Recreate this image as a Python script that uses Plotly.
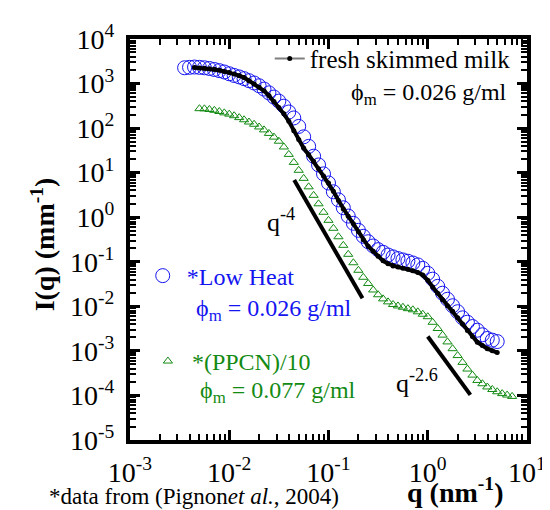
import plotly.graph_objects as go

# ---- data (q in nm^-1, I in mm^-1) ----
q_grid = [0.00355, 0.00398, 0.00447, 0.00501, 0.00562, 0.00631, 0.00708, 0.00794, 0.00891,
          0.0100, 0.0112, 0.0126, 0.0141, 0.0158, 0.0178, 0.0200, 0.0224, 0.0251, 0.0282,
          0.0316, 0.0355, 0.0398, 0.0447, 0.0501, 0.0562, 0.0631, 0.0708, 0.0794, 0.0891,
          0.100, 0.112, 0.126, 0.141, 0.158, 0.178, 0.200, 0.224, 0.251, 0.282,
          0.316, 0.355, 0.398, 0.447, 0.501, 0.562, 0.631, 0.708, 0.794, 0.891,
          1.00, 1.12, 1.26, 1.41, 1.58, 1.78, 2.00, 2.24, 2.51, 2.82,
          3.16, 3.55, 3.98, 4.47, 5.01, 5.62, 6.31, 7.08]

q_low_heat = q_grid[0:64]
I_low_heat = [2260, 2310, 2350, 2310, 2260, 2180, 2070, 1950, 1820, 1660,
              1520, 1410, 1290, 1160, 1030, 893, 753, 618, 498, 403,
              311, 230, 169, 109, 63.8, 38.9, 23.4, 14.9, 9.40, 5.87,
              3.72, 2.45, 1.63, 1.06, 0.730, 0.508, 0.373, 0.282, 0.226, 0.187,
              0.163, 0.142, 0.129, 0.118, 0.110, 0.103, 0.0940, 0.0851, 0.0711, 0.0552,
              0.0407, 0.0281, 0.0197, 0.0144, 0.0103, 0.00757, 0.00552, 0.00440, 0.00352, 0.00291,
              0.00230, 0.00190, 0.00174, 0.00162]

q_milk = q_grid[2:64]
I_milk = [2280, 2240, 2200, 2160, 2090, 1990, 1870, 1770, 1630, 1500,
          1360, 1160, 979, 830, 686, 536, 397, 291, 209, 143,
          87.5, 55.8, 35.6, 25.2, 18.0, 12.2, 8.39, 5.87, 3.81, 2.37,
          1.53, 1.05, 0.711, 0.471, 0.311, 0.223, 0.172, 0.133, 0.105, 0.0902,
          0.0809, 0.0760, 0.0719, 0.0679, 0.0631, 0.0578, 0.0504, 0.0385, 0.0271, 0.0197,
          0.0141, 0.0103, 0.00773, 0.00555, 0.00399, 0.00288, 0.00211, 0.00157, 0.00132, 0.00112,
          0.00101, 0.000916]

q_ppcn = q_grid[3:67]
I_ppcn = [273, 271, 262, 251, 236, 220, 206, 190, 172, 154,
          137, 122, 106, 91.2, 76.0, 62.8, 50.8, 37.7, 25.7, 17.0,
          11.3, 7.45, 4.81, 3.10, 2.00, 1.29, 0.851, 0.564, 0.364, 0.234,
          0.147, 0.0951, 0.0644, 0.0449, 0.0326, 0.0233, 0.0182, 0.0147, 0.0126, 0.0110,
          0.0102, 0.00955, 0.00887, 0.00836, 0.00753, 0.00665, 0.00585, 0.00438, 0.00318, 0.00226,
          0.00159, 0.00112, 0.000785, 0.000552, 0.000391, 0.000286, 0.000217, 0.000183, 0.000155, 0.000136,
          0.000121, 0.000110, 0.000102, 0.0000951]

slope4_q = [0.0451, 0.220]
slope4_I = [6.82, 0.0152]
slope26_q = [1.00, 2.69]
slope26_I = [0.0021, 0.000103]

x_tickvals = [1e-3, 1e-2, 1e-1, 1, 10]
x_ticktext = ["10<sup>-3</sup>", "10<sup>-2</sup>", "10<sup>-1</sup>", "10<sup>0</sup>", "10<sup>1</sup>"]
y_tickvals = [1e-5, 1e-4, 1e-3, 1e-2, 1e-1, 1, 10, 100, 1000, 10000]
y_ticktext = ["10<sup>-5</sup>", "10<sup>-4</sup>", "10<sup>-3</sup>", "10<sup>-2</sup>", "10<sup>-1</sup>",
              "10<sup>0</sup>", "10<sup>1</sup>", "10<sup>2</sup>", "10<sup>3</sup>", "10<sup>4</sup>"]

BLUE = "#1414f0"
GREEN = "#138a13"
FONT = "Liberation Serif"

x_minor = [m * 10.0 ** e for e in range(-3, 1) for m in range(2, 10)]
y_minor = [m * 10.0 ** e for e in range(-5, 4) for m in range(2, 10)]

fig = go.Figure()

fig.add_trace(go.Scatter(x=q_low_heat, y=I_low_heat, mode="markers", name="*Low Heat",
                         marker=dict(symbol="circle-open", size=14, color=BLUE, line=dict(width=1, color=BLUE)),
                         legend="legend2"))
fig.add_trace(go.Scatter(x=q_ppcn, y=I_ppcn, mode="markers", name="*(PPCN)/10",
                         marker=dict(symbol="triangle-up-open", size=8, color=GREEN, line=dict(width=1, color=GREEN)),
                         legend="legend3"))
fig.add_trace(go.Scatter(x=q_milk, y=I_milk, mode="lines+markers", name="fresh skimmed milk",
                         line=dict(color="black", width=4),
                         marker=dict(symbol="circle", size=5, color="black"),
                         showlegend=False))
# legend key for the milk curve (thin grey line with a dot)
fig.add_trace(go.Scatter(x=[None], y=[None], mode="lines+markers", name="fresh skimmed milk",
                         line=dict(color="#7f7f7f", width=2),
                         marker=dict(symbol="circle", size=5, color="black"),
                         legend="legend"))
fig.add_trace(go.Scatter(x=slope4_q, y=slope4_I, mode="lines", line=dict(color="black", width=4),
                         showlegend=False))
fig.add_trace(go.Scatter(x=slope26_q, y=slope26_I, mode="lines", line=dict(color="black", width=4),
                         showlegend=False))

axis_common = dict(
    type="log", showline=True, linewidth=4, linecolor="black", mirror="ticks",
    ticks="inside", ticklen=10, tickwidth=2.5, tickcolor="black",
    showgrid=False, zeroline=False,
    tickfont=dict(family=FONT, size=28, color="black"),
)

fig.update_layout(
    width=550, height=510,
    margin=dict(l=122, r=21, t=30, b=78),
    paper_bgcolor="white", plot_bgcolor="white",
    font=dict(family=FONT, color="black"),
    xaxis=dict(range=[-3, 1], tickmode="array", tickvals=x_tickvals, ticktext=x_ticktext,
               ticklabelstandoff=4,
               minor=dict(tickmode="array", tickvals=x_minor, ticks="inside", ticklen=6, tickwidth=2,
                          tickcolor="black", showgrid=False),
               **axis_common),
    yaxis=dict(range=[-5, 4], tickmode="array", tickvals=y_tickvals, ticktext=y_ticktext,
               ticklabelstandoff=6,
               minor=dict(tickmode="array", tickvals=y_minor, ticks="inside", ticklen=6, tickwidth=2,
                          tickcolor="black", showgrid=False),
               **axis_common),
    legend=dict(x=0.352, y=1.008, xanchor="left", yanchor="top", bgcolor="rgba(0,0,0,0)",
                font=dict(family=FONT, size=25, color="black")),
    legend2=dict(x=0.022, y=0.465, xanchor="left", yanchor="top", bgcolor="rgba(0,0,0,0)",
                 itemwidth=38, font=dict(family=FONT, size=24, color=BLUE)),
    legend3=dict(x=0.035, y=0.252, xanchor="left", yanchor="top", bgcolor="rgba(0,0,0,0)",
                 itemwidth=38, font=dict(family=FONT, size=24, color=GREEN)),
)

ann = [
    dict(text="ϕ<sub>m</sub> = 0.026 g/ml", x=0.552, y=0.864, font=dict(size=24, color="black")),
    dict(text="ϕ<sub>m</sub> = 0.026 g/ml", x=0.162, y=0.324, font=dict(size=24, color=BLUE)),
    dict(text="ϕ<sub>m</sub> = 0.077 g/ml", x=0.172, y=0.120, font=dict(size=24, color=GREEN)),
    dict(text="q<sup>-4</sup>", x=0.340, y=0.548, font=dict(size=26, color="black")),
    dict(text="q<sup>-2.6</sup>", x=0.666, y=0.147, font=dict(size=26, color="black")),
    dict(text="*data from (Pignon<i>et al.</i>, 2004)", x=-0.21, y=-0.140, font=dict(size=23, color="black")),
]
for a in ann:
    fig.add_annotation(xref="paper", yref="paper", xanchor="left", yanchor="middle",
                       showarrow=False, **{k: v for k, v in a.items() if k != "font"},
                       font=dict(family=FONT, **a["font"]))

fig.add_annotation(xref="paper", yref="paper", x=0.818, y=-0.125, xanchor="center", yanchor="middle",
                   showarrow=False, text="<b>q (nm<sup>-1</sup>)</b>",
                   font=dict(family=FONT, size=28, color="black"))
fig.add_annotation(xref="paper", yref="paper", x=-0.219, y=0.488, xanchor="center", yanchor="middle",
                   showarrow=False, textangle=-90, text="<b>I(q) (mm<sup>-1</sup>)</b>",
                   font=dict(family=FONT, size=28, color="black"))

fig.write_html("out.html")
